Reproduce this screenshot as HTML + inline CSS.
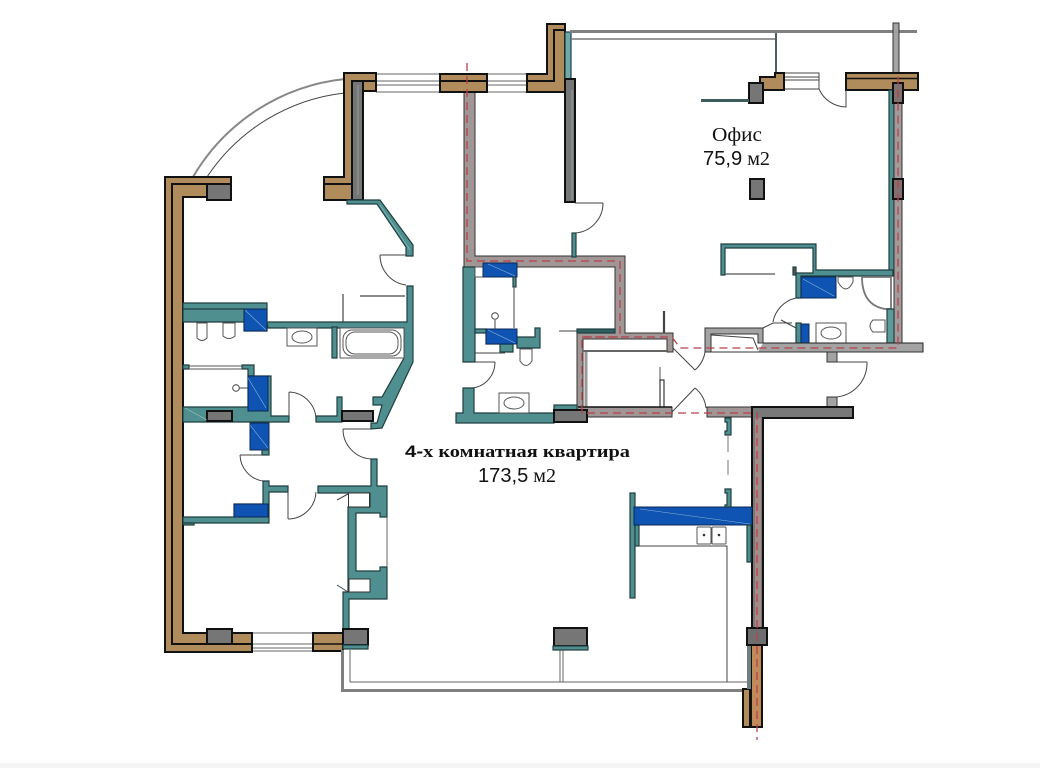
<!DOCTYPE html>
<html><head><meta charset="utf-8"><style>
html,body{margin:0;padding:0;background:#fff;width:1040px;height:768px;overflow:hidden}
svg{display:block}
.b{fill:#b08c5c;stroke:#111;stroke-width:2}
.t{fill:#4f8f8f;stroke:#1e3f40;stroke-width:1.2}
.g{fill:#767676;stroke:#111;stroke-width:2}
.p{fill:#a09696;stroke:#333;stroke-width:1}
.l{fill:#a3a3a3;stroke:#333;stroke-width:1}
.u{fill:#0f53b3;stroke:#0b2a55;stroke-width:1}
.w{fill:#fff;stroke:#555;stroke-width:1}
.n{fill:none;stroke:#444;stroke-width:1}
.y{fill:none;stroke:#666;stroke-width:1.5}
.r{fill:none;stroke:#b8404a;stroke-width:1.3;stroke-dasharray:8 5}
.f{fill:#fff;stroke:#555;stroke-width:1}
.d{stroke:#b9e0e0;stroke-width:.6;fill:none;opacity:.7}
text{fill:#111}
</style></head><body>
<svg width="1040" height="768" viewBox="0 0 1040 768" xmlns="http://www.w3.org/2000/svg">
<rect x="0" y="763" width="1040" height="5" fill="#f4f4f4"/>

<!-- arc window -->
<path d="M193 177A200 200 0 0 1 345 79" fill="none" stroke="#888" stroke-width="2"/>
<path d="M207 177A190 190 0 0 1 345 93" class="n"/>
<!-- top windows -->
<path d="M376 74H441M376 81H441M376 85H441M376 92H441" class="y" style="stroke-width:1"/>
<path d="M487 74H527M487 81H527M487 85H527M487 92H527" class="y" style="stroke-width:1"/>
<path d="M252 633H313M252 644H313M252 648H313M252 651H313" class="y" style="stroke-width:1"/>

<!-- left brown wall -->
<path class="b" d="M165 177H231V200H207V197H183V633H252V652H165Z"/>
<path d="M172 645V184H231M172 644H252" fill="none" stroke="#111" stroke-width="2"/>
<rect class="g" x="207" y="184" width="24" height="16"/>
<rect class="g" x="207" y="629" width="25" height="15"/>
<!-- pillar top -->
<path class="b" d="M344 73H376V91H363V177H352V200H324V177H344Z"/>
<path d="M324 184H352" stroke="#111" stroke-width="2"/>
<rect class="g" x="352" y="81" width="11" height="119"/>
<path d="M352 81H376" stroke="#111" stroke-width="2"/>
<path class="t" d="M347 200H380L413 245V256H406V247L377 204H347Z"/>
<!-- bathroom walls left -->
<path class="t" d="M183 303H267V331H244V322H183Z"/>
<path d="M183 309H244" stroke="#1e3f40" stroke-width="1.2"/>
<rect class="u" x="244" y="309" width="23" height="22"/>
<path class="t" d="M267 322H407V286H413V362L382 428L371 429V423H377L382 405H373V397H382L404 358V328H268Z"/>
<rect class="t" x="332" y="327" width="5" height="31"/>
<path d="M343 294V322M360 296H405" stroke="#444" stroke-width="1.2" fill="none"/>
<path class="n" d="M380 255H406M380 255A30 30 0 0 0 406 285"/>
<!-- fixtures left -->
<path class="f" d="M197 323H207V338Q202 343 197 338Z"/>
<path class="f" d="M223 323H235V336Q229 341 223 336Z"/>
<rect class="w" x="287" y="328" width="30" height="18"/><ellipse class="f" cx="302" cy="337" rx="10" ry="6"/>
<rect class="f" x="340" y="328" width="64" height="30"/><rect class="f" x="343" y="330" width="58" height="26" rx="9"/><rect class="f" x="346" y="332" width="52" height="22" rx="9"/>
<!-- shower -->
<path class="t" d="M183 365H189V369H183ZM242 365H254V376H248V369H242Z"/>
<path d="M189 366H242M189 369H242" stroke="#555"/>
<path class="t" d="M183 407H248V376H271V416H289V422H183Z"/>
<rect class="u" x="248" y="376" width="20" height="35"/>
<rect class="g" x="207" y="411" width="25" height="10"/>
<circle class="n" cx="236" cy="388" r="3.3"/><path class="n" d="M239 388H248"/>
<path class="n" d="M289 392V416M289 392A28 28 0 0 1 316 420"/>
<path class="t" d="M316 416H337V397H342V422H316Z"/>
<rect class="g" x="342" y="411" width="31" height="10"/>
<rect class="u" x="250" y="423" width="19" height="27"/>
<rect class="t" x="262" y="450" width="7" height="5"/>
<path class="n" d="M240 455H262M240 455A27 27 0 0 0 263 481"/>
<path class="t" d="M263 481H269V486H288V492H269V523H183V517H234V504H263Z"/>
<rect class="u" x="234" y="504" width="34" height="13"/>
<rect class="t" x="183" y="523" width="11" height="2"/>
<path class="n" d="M288 492V519M288 519A28 28 0 0 0 316 492"/>
<path d="M183 525V633" stroke="#111" stroke-width="2"/>
<!-- closet -->
<path class="t" d="M318 486H371V459H377V486H387V517H380V513H356V571H380V567H387V599H349V629H343V592H348V507H370V493H318Z"/>
<rect x="348.500" y="493" width="21" height="14" fill="#fff" stroke="#333"/>
<rect x="349" y="579" width="21" height="13" fill="#fff" stroke="#333"/>
<path d="M387 517V567" stroke="#666"/>
<path class="n" d="M337 500L348 494M337 585L348 592"/>
<path class="n" d="M343 429H371M343 429A30 30 0 0 0 371 459"/>
<!-- bottom-left pillar -->
<rect class="b" x="313" y="633" width="30" height="18"/>
<path d="M313 644H343" stroke="#111" stroke-width="1.5"/>
<rect class="g" x="343" y="629" width="25" height="16"/>
<rect class="t" x="343" y="645" width="25" height="4"/>
<!-- balcony -->
<path d="M342.500 650V690.500H745" fill="none" stroke="#808080" stroke-width="3"/>
<path d="M350 650V682H748M560 650V682M563 650V682" fill="none" stroke="#666" stroke-width="1"/>
<rect class="g" x="554" y="628" width="33" height="18"/>
<rect class="t" x="553" y="646" width="35" height="4"/>

<!-- central flat: pink walls -->
<path class="p" d="M464 92H475V256H625V333H673V352H667V339H583V407H672V417H577V333H615V267H464Z"/>
<path class="t" d="M463 267H475V362H463Z"/>
<rect x="475" y="267" width="8" height="10" fill="#fff" stroke="#555"/>
<rect class="u" x="483" y="263" width="34" height="14"/>
<rect class="t" x="513" y="277" width="3" height="10"/>
<path d="M514 287V328" stroke="#777" stroke-width="1.4"/>
<path class="t" d="M475 329H486V344H513V352H500V344H486V333H475ZM517 337H535V328H540V348H517Z"/>
<rect class="u" x="486" y="329" width="31" height="15"/>
<circle class="n" cx="495" cy="316" r="3.300"/><path class="n" d="M495 320V329"/>
<path class="n" d="M475 353H505"/>
<path class="f" d="M520 349H532V361Q526 370 520 361Z"/>
<path class="n" d="M475 362H495M495 362A26 26 0 0 1 473 388"/>
<path class="t" d="M463 388H474V413H554V423H456V413H463Z"/>
<rect class="w" x="499" y="393" width="30" height="20"/><ellipse class="f" cx="514" cy="403" rx="10" ry="6"/>
<rect class="t" x="554" y="405" width="23" height="5"/>
<rect class="g" x="554" y="410" width="33" height="12"/>
<path class="n" d="M559 331H577"/>
<rect class="t" x="577" y="329" width="38" height="4" style="fill:#2f5f5f"/>
<path d="M664 311V333" stroke="#444" stroke-width="2.200"/>
<path d="M586 352V407" stroke="#999" stroke-width="3"/>
<path d="M583 351H667" stroke="#666" stroke-width="2"/>
<path d="M660 367V380" stroke="#aaa" stroke-width="2"/>
<rect x="660" y="380" width="4" height="27" fill="#fff" stroke="#111"/>
<path d="M578 407H672" stroke="#111" stroke-width="1.4"/>
<!-- mid doors -->
<path class="n" d="M673 348L695 370M695 370A30 30 0 0 0 705 352"/>
<path class="n" d="M672 412L695 388M695 388A30 30 0 0 1 706 408"/>

<!-- top brown right of center -->
<path class="b" d="M440 74H487V92H440Z"/>
<path d="M440 81H487" stroke="#111" stroke-width="2"/>
<path class="b" d="M527 74H547V24H565V92H527Z"/>
<path d="M527 81H554V30H565" stroke="#111" stroke-width="2" fill="none"/>
<rect class="t" x="565" y="32" width="6" height="48" style="fill:#6fa9a9"/>
<rect class="g" x="565" y="79" width="10" height="123"/>
<path class="n" d="M575 203H603M603 203A30 30 0 0 1 575 233"/>
<rect class="t" x="572" y="233" width="4" height="24"/>

<!-- office -->
<path d="M570 31.500H917" stroke="#808080" stroke-width="3"/>
<path d="M571 39H776" stroke="#777" stroke-width="1.500"/>
<path d="M776 33V73" stroke="#4a5f60" stroke-width="2"/>
<rect class="l" x="893" y="23" width="6" height="50"/>
<rect class="b" x="846" y="73" width="72" height="17"/>
<path d="M846 78.500H918" stroke="#111" stroke-width="1.600"/>
<path class="n" d="M784 73H819V89H784M784 77H819M784 80H819"/>
<path class="n" d="M819 89A30 30 0 0 0 846 107V90"/>
<path class="b" d="M760 77H775V73H784V90H760Z"/>
<rect class="g" x="749" y="83" width="14" height="20"/>
<rect x="701" y="99" width="48" height="3" fill="#3d5c5c"/>
<rect class="g" x="750" y="179" width="14" height="20"/>
<rect x="889" y="90" width="5" height="183" class="t"/>
<rect x="894" y="90" width="8" height="253" class="l" style="fill:#a39a9a"/>
<rect class="g" x="893" y="83" width="10" height="20" style="fill:#807070"/>
<rect class="g" x="893" y="179" width="10" height="20" style="fill:#807070"/>
<path class="t" d="M721 244H816V270H893V276H801V298H796V273H813V248H725V275H721Z"/>
<path d="M725 274H775" stroke="#555" stroke-width="1.200"/>
<rect class="u" x="801" y="277" width="35" height="21"/>
<rect class="t" x="793" y="267" width="3" height="8" style="fill:#555"/>
<path class="n" d="M796 298A30 30 0 0 0 773 322"/>
<path class="n" d="M763 328L773 323H792M781 320L796 328"/>
<rect class="t" x="796" y="323" width="5" height="20"/>
<rect class="u" x="801" y="324" width="8" height="19"/>
<rect class="w" x="816" y="323" width="30" height="20"/><ellipse class="f" cx="831" cy="333" rx="10" ry="6"/>
<path class="f" d="M838 277H853V282Q846 296 838 282Z"/>
<path d="M862 277H891V309H885Q862 305 862 277Z" fill="#fff" stroke="#777" stroke-width="1.800"/>
<rect class="t" x="887" y="309" width="7" height="34" style="fill:#5d9a9a"/>
<path class="f" d="M885 320H873Q867 326 873 332H885Z"/>
<path d="M763 343H923V352H758" fill="#a3a3a3" stroke="#222"/>
<path d="M705 328H763V343H758V334H711V352H705Z" class="l"/>
<path class="n" d="M711 335L753 338L758 350"/>
<path d="M705 352H923" stroke="#333"/>
<rect class="l" x="827" y="352" width="10" height="10"/>
<rect class="l" x="827" y="397" width="10" height="10"/>
<path class="n" d="M837 362H867M867 362A34 34 0 0 1 837 397"/>
<path class="p" d="M707 407H752V417H707Z"/>
<path d="M752 407H853V418H763V628H752Z" fill="#787878" stroke="#111" stroke-width="2"/>
<rect x="755" y="418" width="6" height="210" fill="#a58a8a"/>
<!-- kitchen -->
<rect class="t" x="630" y="493" width="5" height="105"/>
<rect class="t" x="635" y="525" width="4" height="21"/>
<rect class="u" x="634" y="507" width="118" height="18"/>
<path class="t" d="M725 418H731V435H725V431H727V422H725Z"/>
<path class="t" d="M725 489H731V507H725V505H727V493H725Z"/>
<path d="M728 436V475" stroke="#777" stroke-dasharray="16 8"/>
<rect class="t" x="747" y="525" width="4" height="37"/>
<path class="n" d="M639 546H727V682"/>
<rect class="w" x="697" y="527" width="14" height="17" rx="1"/><rect class="w" x="712" y="527" width="14" height="17" rx="1"/>
<circle cx="704" cy="535" r="1.300" fill="#333"/><circle cx="719" cy="535" r="1.300" fill="#333"/>
<!-- right lower wall -->
<rect x="751" y="645" width="11" height="82" class="b" style="fill:#c08a5a"/>
<rect class="b" x="743" y="689" width="7" height="38"/>
<rect x="747" y="628" width="4" height="61" fill="#6f7f7f"/>
<rect class="g" x="747" y="628" width="20" height="17" style="fill:#6e6e6e"/>

<!-- red dashed -->
<path class="r" d="M467 63V261H620V337H582V413H757V740"/>
<path class="r" d="M582 337H672L680 348H898V75"/>

<!-- highlights -->
<path class="d" d="M248 378L266 408M250 425L268 448M245 310L266 330M803 279L834 296M488 264L515 276M488 330L515 343M640 509L750 524M380 205L410 250M185 408L207 420M572 90V200M358 85V195"/>

<!-- labels -->
<text x="712" y="141" font-family="Liberation Serif, serif" font-size="20" textLength="50" lengthAdjust="spacingAndGlyphs">Офис</text>
<text x="703" y="165" font-family="Liberation Serif, serif" font-size="20" textLength="67" lengthAdjust="spacingAndGlyphs"><tspan font-family="Liberation Sans, sans-serif">75,9</tspan> м2</text>
<text x="405" y="457" font-family="Liberation Serif, serif" font-size="17" font-weight="bold" textLength="225" lengthAdjust="spacingAndGlyphs"><tspan font-family="Liberation Sans, sans-serif">4-</tspan>х комнатная квартира</text>
<text x="478" y="482" font-family="Liberation Serif, serif" font-size="20" textLength="78" lengthAdjust="spacingAndGlyphs"><tspan font-family="Liberation Sans, sans-serif">173,5</tspan> м2</text>
</svg>
</body></html>
